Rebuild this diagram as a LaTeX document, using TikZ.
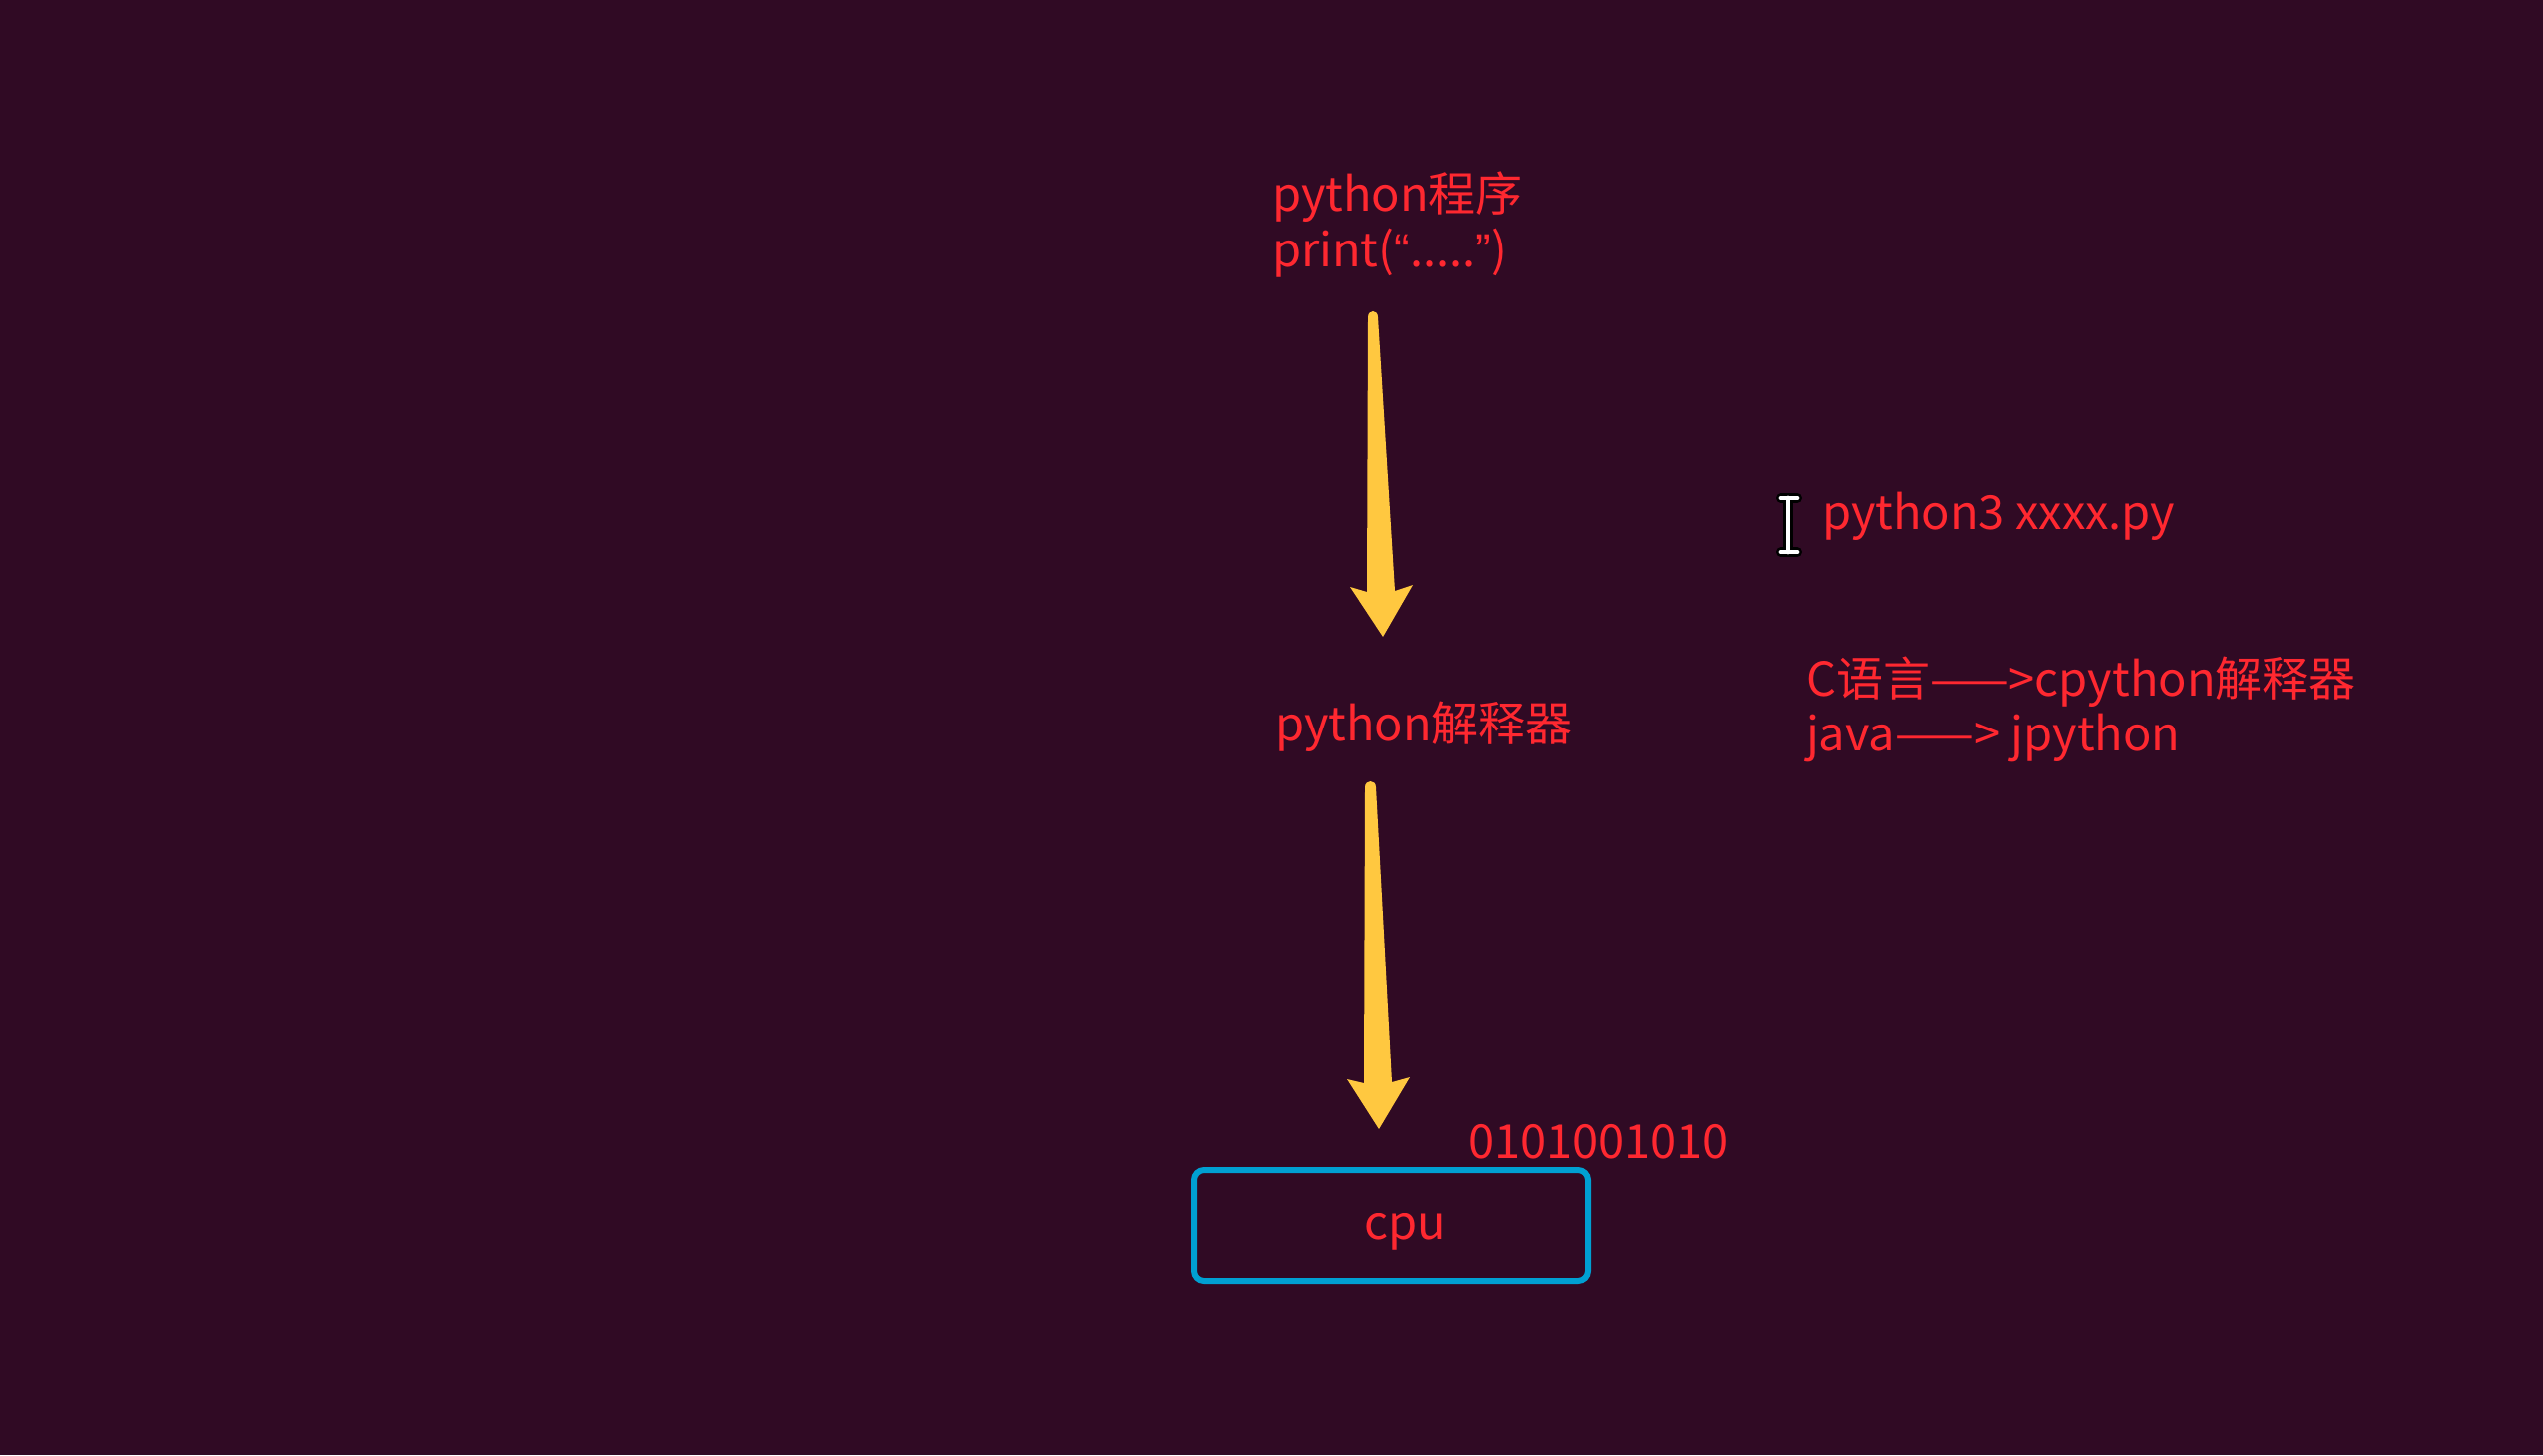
\documentclass[tikz,border=0pt]{standalone}
\usepackage{fontspec}
\setmainfont{Noto Sans CJK SC}
\newfontfamily\quotefont{Liberation Sans}
\definecolor{bgcol}{RGB}{48,10,36}
\definecolor{txtred}{RGB}{255,40,48}
\definecolor{arrowyel}{RGB}{255,200,64}
\definecolor{cpublue}{RGB}{0,160,210}
\begin{document}
\begin{tikzpicture}[x=0.5pt,y=-0.5pt,
  lbl/.style={text=txtred, inner sep=0pt, outer sep=0pt, anchor=base west,
    font=\fontsize{23.5pt}{28pt}\selectfont},
  fatarrow/.style={fill=arrowyel, draw=none},
  cpubox/.style={draw=cpublue, line width=3pt, rounded corners=5pt}]
\fill[bgcol] (0,0) rectangle (2548,1458);
\useasboundingbox (0,0) rectangle (2548,1458);

% text
\node[lbl] (prog1) at (1275,211) {python程序};
\node[lbl] (prog2) at (1275,267) {print({\quotefont “}.....{\quotefont ”})};
\node[lbl] (interp) at (1278,742) {python解释器};
\node[lbl] (cmd) at (1826,530) {python3 xxxx.py};
\node[lbl] (clang) at (1810,697) {C语言——>cpython解释器};
\node[lbl] (java) at (1810,752) {java——> jpython};
\node[lbl] (bits) at (1471,1160) {0101001010};

% cpu box
\draw[cpubox] (1196,1172) rectangle (1591,1284);
\node[text=txtred, inner sep=0pt, anchor=base, font=\fontsize{23.5pt}{28pt}\selectfont] (cpu) at (1408,1242) {cpu};

% tapered arrows
\coordinate (a1s) at (1376,313);
\coordinate (a1t) at (1386,638);
\fill[fatarrow] (1371,318) .. controls (1371,310) and (1381,310) .. (1381,318)
  -- (1398,592) -- (1416,586) -- (a1t) -- (1353,588) -- (1370,593) -- cycle;
\coordinate (a2s) at (1373,784);
\coordinate (a2t) at (1382,1131);
\fill[fatarrow] (1368,789) .. controls (1368,781) and (1379,781) .. (1379,789)
  -- (1395,1084) -- (1413,1079) -- (a2t) -- (1350,1081) -- (1367,1085) -- cycle;

% text cursor (I-beam)
\begin{scope}[line cap=round]
\draw[black, line width=5pt] (1792,499) -- (1792,553) (1784,499) -- (1801,499) (1784,553) -- (1801,553);
\draw[white, line width=2.4pt] (1792,499) -- (1792,553) (1784,499) -- (1801,499) (1784,553) -- (1801,553);
\end{scope}
\end{tikzpicture}
\end{document}
